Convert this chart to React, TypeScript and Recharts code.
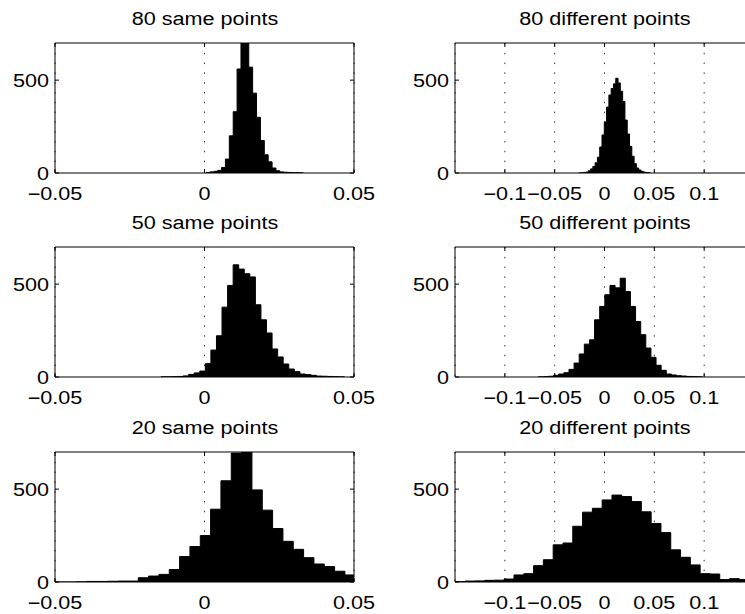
import React from 'react';
import { AreaChart, Area, XAxis, YAxis, CartesianGrid } from 'recharts';

// histogram bins: left edge of first bin, bin width, count in each bin
const same80Start = 0.0005;
const same80Width = 0.0013;
const same80Counts = [3, 6, 9, 14, 30, 75, 200, 330, 560, 720, 710, 570, 430, 300, 175, 98, 60, 27, 12, 6, 4, 3, 2, 2, 1];

const diff80Start = -0.0255;
const diff80Width = 0.0023;
const diff80Counts = [1, 2, 3, 5, 12, 22, 35, 55, 85, 140, 205, 275, 355, 420, 455, 480, 510, 485, 440, 385, 285, 210, 143, 90, 50, 27, 16, 9, 5, 3, 2];

const same50Start = -0.0146;
const same50Width = 0.00186;
const same50Counts = [1, 1, 2, 3, 6, 14, 22, 32, 72, 145, 222, 376, 493, 604, 581, 556, 539, 389, 308, 237, 151, 108, 70, 43, 29, 16, 13, 9, 5, 4, 3, 2, 1];

const diff50Start = -0.0665;
const diff50Width = 0.00514;
const diff50Counts = [1, 2, 4, 9, 16, 23, 41, 75, 124, 177, 200, 308, 380, 443, 493, 480, 532, 460, 380, 299, 228, 156, 106, 63, 36, 16, 11, 7, 5, 3, 2, 1];

const same20Start = -0.0498;
const same20Width = 0.003456;
const same20Counts = [0, 0, 1, 3, 3, 4, 5, 5, 23, 32, 41, 67, 137, 191, 250, 392, 545, 694, 720, 496, 387, 288, 219, 176, 131, 97, 83, 58, 38];

const diff20Start = -0.1498;
const diff20Width = 0.00983;
const diff20Counts = [2, 5, 6, 9, 10, 16, 38, 45, 88, 120, 200, 210, 300, 376, 397, 442, 468, 460, 433, 378, 315, 266, 173, 133, 92, 45, 43, 13, 18, 13];

const sameTicks = [-0.05, 0, 0.05];
const diffTicks = [-0.1, -0.05, 0, 0.05, 0.1];
const countTicks = [0, 500];
const sameDomain = [-0.05, 0.05];
const diffDomain = [-0.15, 0.15];
const countMax = 700;

const FONT = '"Liberation Sans", Arial, Helvetica, sans-serif';
const FS = 18;
const STRETCH = 1.2;
const TICK = 4;
const CHART_H = 204;
const PLOT_TOP = 43;
const PLOT_H = 130;

const fmt = (v: number) => (v === 0 ? '0' : (v < 0 ? '\u2212' : '') + String(Math.abs(v)));

// histogram -> step area points (last point closes the final bin)
function toSteps(start: number, width: number, counts: number[]) {
  const pts = counts.map((c, i) => ({ x: start + i * width, c }));
  pts.push({ x: start + counts.length * width, c: 0 });
  return pts;
}

const Label = ({ x, y, anchor, children }: any) => (
  <g transform={`translate(${x},${y}) scale(${STRETCH},1)`}>
    <text x={0} y={0} textAnchor={anchor} fontFamily={FONT} fontSize={FS} fill="#000">
      {children}
    </text>
  </g>
);

const BottomTick = (props: any) => {
  const { x, y, payload } = props;
  return (
    <g>
      <line x1={x} y1={y} x2={x} y2={y - TICK} stroke="#000" />
      <Label x={x} y={y + 27} anchor="middle">{fmt(payload.value)}</Label>
    </g>
  );
};

const TopTick = (props: any) => {
  const { x, y } = props;
  return <line x1={x} y1={y} x2={x} y2={y + TICK} stroke="#000" />;
};

const LeftTick = (props: any) => {
  const { x, y, payload } = props;
  return (
    <g>
      <line x1={x} y1={y} x2={x + TICK} y2={y} stroke="#000" />
      <Label x={x - 6} y={y + 6.5} anchor="end">{String(payload.value)}</Label>
    </g>
  );
};

const RightTick = (props: any) => {
  const { x, y } = props;
  return <line x1={x} y1={y} x2={x - TICK} y2={y} stroke="#000" />;
};

interface PanelProps {
  title: string;
  left: number;
  top: number;
  width: number;
  axisLeft: number;
  axisRight: number;
  start: number;
  binWidth: number;
  counts: number[];
  domain: number[];
  ticks: number[];
}

const Panel: React.FC<PanelProps> = ({ title, left, top, width, axisLeft, axisRight, start, binWidth, counts, domain, ticks }) => {
  const data = toSteps(start, binWidth, counts);
  const plotW = width - axisLeft - axisRight;
  const center = axisLeft + plotW / 2;
  return (
    <div style={{ position: 'absolute', left, top, width, height: CHART_H }}>
      <AreaChart width={width} height={CHART_H} data={data} margin={{ top: 0, right: 0, bottom: 0, left: 0 }}>
        <CartesianGrid horizontal={false} stroke="#333" strokeDasharray="1.5 8.3" />
        <XAxis
          dataKey="x"
          type="number"
          domain={domain}
          ticks={ticks}
          interval={0}
          allowDataOverflow
          height={CHART_H - PLOT_TOP - PLOT_H}
          tickSize={0}
          tickMargin={0}
          tickLine={false}
          axisLine={{ stroke: '#000' }}
          tick={<BottomTick />}
        />
        <XAxis
          xAxisId="top"
          orientation="top"
          dataKey="x"
          type="number"
          domain={domain}
          ticks={ticks}
          interval={0}
          allowDataOverflow
          height={PLOT_TOP}
          tickSize={0}
          tickMargin={0}
          tickLine={false}
          axisLine={{ stroke: '#000' }}
          tick={<TopTick />}
        />
        <YAxis
          type="number"
          domain={[0, countMax]}
          ticks={countTicks}
          interval={0}
          allowDataOverflow
          width={axisLeft}
          tickSize={0}
          tickMargin={0}
          tickLine={false}
          axisLine={{ stroke: '#000' }}
          tick={<LeftTick />}
        />
        <YAxis
          yAxisId="right"
          orientation="right"
          type="number"
          domain={[0, countMax]}
          ticks={countTicks}
          interval={0}
          allowDataOverflow
          width={axisRight}
          tickSize={0}
          tickMargin={0}
          tickLine={false}
          axisLine={{ stroke: '#000' }}
          tick={<RightTick />}
        />
        <Area
          type="stepAfter"
          dataKey="c"
          stroke="#000"
          strokeWidth={1}
          fill="#000"
          fillOpacity={1}
          dot={false}
          activeDot={false}
          isAnimationActive={false}
        />
      </AreaChart>
      <div
        style={{
          position: 'absolute',
          left: center - 200,
          width: 400,
          top: PLOT_TOP - 33,
          textAlign: 'center',
          fontFamily: FONT,
          fontSize: FS,
          lineHeight: `${FS}px`,
          transform: `scaleX(${STRETCH})`,
          color: '#000',
          whiteSpace: 'nowrap',
        }}
      >
        {title}
      </div>
    </div>
  );
};

export default function App() {
  const rows = [0, 204, 409];
  return (
    <div style={{ position: 'absolute', left: 0, top: 0, width: 745, height: 614, overflow: 'hidden', background: '#fff' }}>
      <Panel title="80 same points" left={0} top={rows[0]} width={380} axisLeft={55} axisRight={26}
        start={same80Start} binWidth={same80Width} counts={same80Counts} domain={sameDomain} ticks={sameTicks} />
      <Panel title="80 different points" left={380} top={rows[0]} width={380} axisLeft={75} axisRight={6}
        start={diff80Start} binWidth={diff80Width} counts={diff80Counts} domain={diffDomain} ticks={diffTicks} />
      <Panel title="50 same points" left={0} top={rows[1]} width={380} axisLeft={55} axisRight={26}
        start={same50Start} binWidth={same50Width} counts={same50Counts} domain={sameDomain} ticks={sameTicks} />
      <Panel title="50 different points" left={380} top={rows[1]} width={380} axisLeft={75} axisRight={6}
        start={diff50Start} binWidth={diff50Width} counts={diff50Counts} domain={diffDomain} ticks={diffTicks} />
      <Panel title="20 same points" left={0} top={rows[2]} width={380} axisLeft={55} axisRight={26}
        start={same20Start} binWidth={same20Width} counts={same20Counts} domain={sameDomain} ticks={sameTicks} />
      <Panel title="20 different points" left={380} top={rows[2]} width={380} axisLeft={75} axisRight={6}
        start={diff20Start} binWidth={diff20Width} counts={diff20Counts} domain={diffDomain} ticks={diffTicks} />
    </div>
  );
}
